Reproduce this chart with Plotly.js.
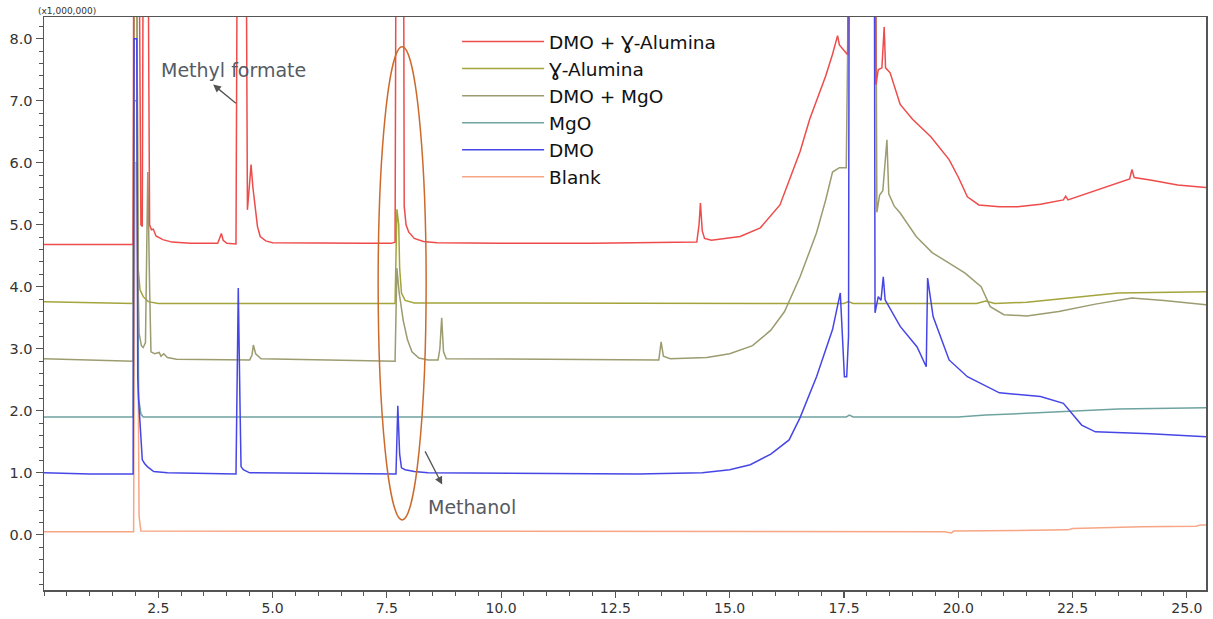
<!DOCTYPE html>
<html>
<head>
<meta charset="utf-8">
<script src="https://cdn.plot.ly/plotly-3.0.1.min.js"></script>
<style>html,body{margin:0;padding:0;background:#fff;}#chart{width:1213px;height:619px;}</style>
</head>
<body>
<div id="chart"></div>
<script>
// Retention time (min) and intensity (x1,000,000) per series
const seriesNames = ["DMO + \u0194-Alumina", "\u0194-Alumina", "DMO + MgO", "MgO", "DMO", "Blank"];
const seriesColors = ["#ee4b4b", "#a4a43c", "#9c9c70", "#6fa3a0", "#4646e6", "#f7a585"];

const redT = [0,1.0,1.95,1.97,2.06,2.12,2.15,2.18,2.26,2.31,2.35,2.39,2.45,2.6,2.8,3.2,3.8,3.85,3.88,3.92,4.0,4.2,4.24,4.41,4.45,4.49,4.53,4.57,4.61,4.67,4.73,4.85,5.0,6.0,7.0,7.6,7.68,7.71,7.86,7.88,7.92,7.98,8.1,8.3,8.6,10.0,12.0,14.28,14.33,14.36,14.4,14.45,14.6,15.23,15.67,16.1,16.54,16.75,16.9,17.1,17.25,17.32,17.36,17.4,17.5,17.58,17.61,18.18,18.2,18.25,18.33,18.38,18.41,18.45,18.51,18.73,19.0,19.4,19.8,20.0,20.2,20.45,20.9,21.3,21.8,22.3,22.35,22.4,22.8,23.3,23.75,23.8,23.85,24.2,24.8,25.42];
const redV = [4.68,4.68,4.68,12,12,5.0,4.97,12,12,5.0,4.92,4.93,4.82,4.76,4.72,4.7,4.7,4.8,4.86,4.75,4.7,4.69,12,12,5.24,5.6,5.97,5.6,5.3,4.97,4.81,4.74,4.71,4.7,4.7,4.7,4.72,12,12,5.3,5.0,4.88,4.78,4.73,4.71,4.7,4.7,4.72,5.0,5.35,4.9,4.78,4.75,4.81,4.95,5.32,6.18,6.7,7.0,7.4,7.75,7.95,8.05,7.9,7.8,7.74,12,12,7.26,7.5,7.53,8.19,7.53,7.5,7.45,6.94,6.7,6.42,6.05,5.77,5.45,5.32,5.29,5.29,5.33,5.4,5.46,5.4,5.5,5.62,5.74,5.89,5.76,5.72,5.64,5.6];

const gamT = [0,1.0,1.95,1.97,2.03,2.06,2.1,2.17,2.28,2.5,7.68,7.72,7.76,7.78,7.82,7.9,8.1,17.5,17.6,17.7,20.4,20.6,20.8,21.5,22.5,23.5,25.42];
const gamV = [3.76,3.74,3.73,9,9,4.3,3.95,3.84,3.76,3.73,3.73,5.25,5.0,4.3,3.9,3.78,3.74,3.73,3.76,3.73,3.73,3.77,3.73,3.75,3.82,3.9,3.92];

const mgoDmoT = [0,0.8,1.95,1.97,2.03,2.06,2.08,2.13,2.17,2.22,2.27,2.31,2.34,2.42,2.52,2.56,2.62,2.7,2.9,4.5,4.55,4.58,4.63,4.75,7.68,7.72,7.77,7.86,7.95,8.05,8.2,8.4,8.62,8.66,8.7,8.74,8.8,13.45,13.5,13.55,13.7,14.5,15.0,15.5,15.9,16.2,16.54,16.9,17.1,17.25,17.4,17.55,17.6,18.2,18.22,18.28,18.35,18.44,18.48,18.6,18.73,19.08,19.43,19.8,20.15,20.5,20.7,21.0,21.5,22.2,23.0,23.8,24.5,25.42];
const mgoDmoV = [2.84,2.82,2.8,9,9,4.0,3.25,3.05,3.02,3.1,5.85,4.0,2.95,2.92,2.94,2.88,2.92,2.86,2.83,2.82,2.9,3.06,2.92,2.84,2.8,4.3,3.9,3.45,3.15,2.95,2.85,2.82,2.82,3.0,3.5,2.95,2.84,2.82,3.11,2.88,2.84,2.86,2.92,3.05,3.3,3.6,4.16,4.87,5.4,5.85,5.92,5.92,9,9,5.2,5.48,5.55,6.37,5.5,5.3,5.19,4.81,4.55,4.38,4.22,4.0,3.68,3.55,3.53,3.6,3.72,3.82,3.78,3.71];

const mgoT = [0,1.95,1.97,2.03,2.07,2.12,2.17,17.55,17.62,17.7,20.0,20.6,21.5,22.5,23.5,25.42];
const mgoV = [1.9,1.9,7,7,2.2,1.95,1.9,1.9,1.93,1.9,1.9,1.93,1.96,2.0,2.03,2.05];

const dmoT = [0,1.0,1.95,1.97,2.03,2.05,2.07,2.1,2.15,2.2,2.26,2.4,2.7,4.2,4.25,4.29,4.31,4.36,4.5,7.7,7.74,7.78,7.82,7.9,8.1,8.4,13.0,14.4,15.0,15.45,15.9,16.3,16.54,16.9,17.25,17.42,17.47,17.51,17.56,17.6,17.62,18.16,18.18,18.25,18.31,18.36,18.4,18.73,19.1,19.3,19.33,19.45,19.8,20.2,20.9,21.8,22.3,22.5,22.7,23.0,24.2,25.42];
const dmoV = [1.0,0.98,0.98,8,8,2.55,2.18,1.85,1.21,1.15,1.1,1.02,1.0,0.98,3.98,2.0,1.1,1.05,1.0,0.98,2.08,1.3,1.08,1.05,1.02,1.0,0.98,1.0,1.05,1.13,1.3,1.53,1.89,2.55,3.31,3.9,3.0,2.55,2.55,3.2,12,12,3.58,3.84,3.78,4.16,3.79,3.36,3.03,2.71,4.14,3.52,2.82,2.55,2.29,2.23,2.12,1.95,1.77,1.66,1.63,1.58];

const blankT = [0,1.96,1.99,2.03,2.08,2.12,19.7,19.85,19.9,21.0,22.4,22.5,23.5,24.0,25.2,25.3,25.42];
const blankV = [0.05,0.05,6,6,0.3,0.06,0.05,0.03,0.06,0.07,0.08,0.1,0.12,0.13,0.14,0.16,0.16];

const xTickVals = [2.5,5,7.5,10,12.5,15,17.5,20,22.5,25];
const xTickText = ["2.5","5.0","7.5","10.0","12.5","15.0","17.5","20.0","22.5","25.0"];
const yTickVals = [0,1,2,3,4,5,6,7,8];
const yTickText = ["0.0","1.0","2.0","3.0","4.0","5.0","6.0","7.0","8.0"];

const seriesX = [redT, gamT, mgoDmoT, mgoT, dmoT, blankT];
const seriesY = [redV, gamV, mgoDmoV, mgoV, dmoV, blankV];
const drawOrder = [5, 3, 1, 2, 0, 4];

const FONT = "DejaVu Sans, Liberation Sans, sans-serif";
const traces = drawOrder.map(i => ({
  type: "scatter", mode: "lines",
  x: seriesX[i], y: seriesY[i],
  name: seriesNames[i],
  legendrank: i + 1,
  line: {color: seriesColors[i], width: 1.5},
  hoverinfo: "skip"
}));

const layout = {
  width: 1213, height: 619,
  margin: {l: 44, r: 7, t: 17, b: 29},
  paper_bgcolor: "#ffffff", plot_bgcolor: "#ffffff",
  font: {family: FONT, color: "#333333", size: 14},
  showlegend: true,
  legend: {
    x: 0.3555, xanchor: "left", y: 0.9895, yanchor: "top",
    bgcolor: "rgba(0,0,0,0)", borderwidth: 0,
    font: {family: FONT, size: 18.5, color: "#111111"},
    itemwidth: 82
  },
  xaxis: {
    range: [0, 25.42], tickvals: xTickVals, ticktext: xTickText,
    ticks: "outside", ticklen: 6, tickwidth: 1.2, tickcolor: "#555",
    minor: {dtick: 0.5, tick0: 0, ticks: "outside", ticklen: 4, tickcolor: "#555", tickwidth: 1},
    showgrid: false, zeroline: false, showline: true, linecolor: "#555", linewidth: 1.5, mirror: true,
    tickfont: {size: 14, color: "#333"}, ticklabelstandoff: -1
  },
  yaxis: {
    range: [-0.89, 8.35], tickvals: yTickVals, ticktext: yTickText,
    ticks: "outside", ticklen: 7, tickwidth: 1.2, tickcolor: "#555",
    minor: {dtick: 0.2, tick0: 0, ticks: "outside", ticklen: 4, tickcolor: "#555", tickwidth: 1},
    showgrid: false, zeroline: false, showline: true, linecolor: "#555", linewidth: 1.5, mirror: true,
    tickfont: {size: 14.5, color: "#333"}
  },
  shapes: [
    {type: "circle", xref: "x", yref: "y", x0: 7.31, x1: 8.36, y0: 0.24, y1: 7.87,
     line: {color: "#cc6a2c", width: 1.5}, layer: "above"}
  ],
  annotations: [
    {xref: "paper", yref: "paper", x: 0.02, y: 1.01, xanchor: "center", yanchor: "middle",
     text: "(x1,000,000)", showarrow: false, font: {size: 9, color: "#333"}},
    {xref: "x", yref: "y", x: 4.14, y: 7.5, text: "Methyl formate", showarrow: false,
     font: {size: 19, color: "#565b63"}},
    {xref: "x", yref: "y", x: 3.70, y: 7.26, ax: 4.23, ay: 6.94, axref: "x", ayref: "y",
     text: "", showarrow: true, arrowhead: 2, arrowsize: 1.2, arrowwidth: 1.3, arrowcolor: "#555"},
    {xref: "x", yref: "y", x: 9.37, y: 0.45, text: "Methanol", showarrow: false,
     font: {size: 19, color: "#565b63"}},
    {xref: "x", yref: "y", x: 8.71, y: 0.81, ax: 8.32, ay: 1.37, axref: "x", ayref: "y",
     text: "", showarrow: true, arrowhead: 2, arrowsize: 1.2, arrowwidth: 1.3, arrowcolor: "#555"}
  ]
};

Plotly.newPlot("chart", traces, layout, {staticPlot: true, displayModeBar: false});
</script>
</body>
</html>
